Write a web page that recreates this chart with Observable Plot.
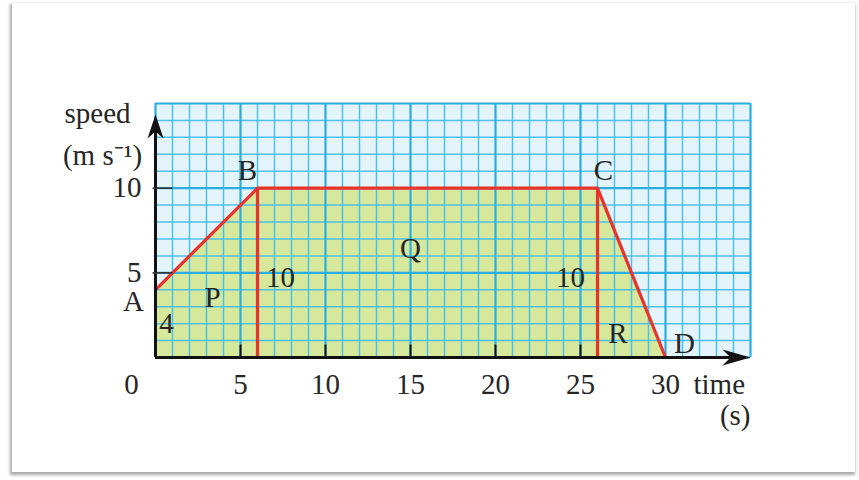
<!DOCTYPE html>
<html>
<head>
<meta charset="utf-8">
<script src="https://cdn.jsdelivr.net/npm/d3@7"></script>
<script src="https://cdn.jsdelivr.net/npm/@observablehq/plot@0.6"></script>
<style>
  html, body { margin: 0; padding: 0; background: #ffffff; }
  #wrap { position: relative; width: 859px; height: 480px; overflow: hidden; }
  #card {
    position: absolute; left: 12px; top: 3px; width: 843px; height: 469px;
    background: #ffffff;
    box-shadow: -1px 2px 3px 1px rgba(0,0,0,0.35);
  }
  #chart { position: absolute; left: 0; top: 0; }
</style>
</head>
<body>
<div id="wrap"><div id="card"></div><div id="chart"></div></div>
<script>
// Speed–time profile of the journey A → B → C → D
const times  = [0, 6, 26, 30];      // s
const speeds = [4, 10, 10, 0];      // m/s
const pointNames = ["A", "B", "C", "D"];

// Axis extents and tick labels
const timeDomain  = [0, 35];
const speedDomain = [0, 15];
const timeTicks   = [5, 10, 15, 20, 25, 30];
const speedTicks  = [5, 10];

// Region names and the side lengths written on the diagram
const regionNames = ["P", "Q", "R"];
const sideLabels  = ["4", "10", "10"];

const profile = times.map((t, i) => ({t, v: speeds[i]}));

const font = "Liberation Serif, Times New Roman, serif";
const ink = "#262626";
const fs = 29;

// Filled "stealth" arrowheads, tip at the anchor point
const arrowUp = {draw(c) { c.moveTo(0, 0); c.lineTo(-8, 24); c.lineTo(0, 17); c.lineTo(8, 24); c.closePath(); }};
const arrowRight = {draw(c) { c.moveTo(0, 0); c.lineTo(-28, -8); c.lineTo(-20, 0); c.lineTo(-28, 8); c.closePath(); }};
// Short tick strokes
const tickUp = {draw(c) { c.moveTo(0, 0); c.lineTo(0, -13); }};
const tickRight = {draw(c) { c.moveTo(-3, 0); c.lineTo(17, 0); }};

const gridX = d3.range(timeDomain[0], timeDomain[1] + 1);
const gridY = d3.range(speedDomain[0], speedDomain[1] + 1);
const major = d => d % 5 === 0;

const label = (text, x, y, o = {}) =>
  Plot.text([text], {x: () => x, y: () => y, text: d => d, fontFamily: font, fontSize: fs, fill: ink, ...o});

const pointOffsets = [[-22, 12], [-10, -17], [6, -17], [19, -14]];

const chart = Plot.plot({
  width: 859,
  height: 480,
  marginLeft: 155,
  marginRight: 109,
  marginTop: 103,
  marginBottom: 123,
  x: {domain: timeDomain, axis: null},
  y: {domain: speedDomain, axis: null},
  style: {background: "transparent", overflow: "visible"},
  marks: [
    // graph-paper background
    Plot.rect([0], {x1: timeDomain[0], x2: timeDomain[1], y1: speedDomain[0], y2: speedDomain[1], fill: "#e3f4fd"}),
    // area under the speed curve
    Plot.areaY(profile, {x: "t", y: "v", fill: "#d5e89c"}),
    // grid
    Plot.ruleX(gridX.filter(d => !major(d)), {x: d => d, y1: speedDomain[0], y2: speedDomain[1], stroke: "#3fbbea", strokeOpacity: 0.9, strokeWidth: 1.5}),
    Plot.ruleY(gridY.filter(d => !major(d)), {y: d => d, x1: timeDomain[0], x2: timeDomain[1], stroke: "#3fbbea", strokeOpacity: 0.9, strokeWidth: 1.5}),
    Plot.ruleX(gridX.filter(major), {x: d => d, y1: speedDomain[0], y2: speedDomain[1], stroke: "#2aaee2", strokeWidth: 2.2}),
    Plot.ruleY(gridY.filter(major), {y: d => d, x1: timeDomain[0], x2: timeDomain[1], stroke: "#2aaee2", strokeWidth: 2.2}),
    // speed curve and dividing verticals
    Plot.ruleX(profile.filter(d => d.v === 10), {x: "t", y1: 0, y2: "v", stroke: "#e8322b", strokeWidth: 3.2}),
    Plot.line(profile, {x: "t", y: "v", stroke: "#e8322b", strokeWidth: 3.2, strokeLinejoin: "miter"}),
    // axes
    Plot.ruleY([0], {x1: 0, x2: 34.2, stroke: "#111", strokeWidth: 3}),
    Plot.ruleX([0], {y1: 0, y2: 13.6, stroke: "#111", strokeWidth: 3}),
    Plot.dot([0], {x: timeDomain[1], y: 0, symbol: arrowRight, fill: "#111", stroke: "none"}),
    Plot.dot([0], {x: 0, y: 14.35, symbol: arrowUp, fill: "#111", stroke: "none"}),
    Plot.dot(timeTicks.filter(d => d < 30), {x: d => d, y: 0, symbol: tickUp, stroke: "#111", strokeWidth: 2, fill: "none"}),
    Plot.dot(speedTicks, {x: 0, y: d => d, symbol: tickRight, stroke: "#333", strokeWidth: 1.6, fill: "none"}),
    // tick labels
    Plot.text(timeTicks, {x: d => d, y: 0, text: d => String(d), dy: 27, fontFamily: font, fontSize: fs, fill: ink}),
    label("0", 0, 0, {dx: -24, dy: 27}),
    Plot.text(speedTicks, {x: 0, y: d => d, text: d => String(d), dx: -14, dy: 0, textAnchor: "end", fontFamily: font, fontSize: fs, fill: ink}),
    // axis titles
    label("speed", 0, 14.4, {dx: -58}),
    label("(m s⁻¹)", 0, 11.9, {dx: -53}),
    label("time", 30, 0, {dx: 28, dy: 27, textAnchor: "start"}),
    label("(s)", 35, 0, {dy: 58, textAnchor: "end"}),
    // point names
    ...pointNames.map((n, i) => label(n, times[i], speeds[i], {dx: pointOffsets[i][0], dy: pointOffsets[i][1]})),
    // region names
    label(regionNames[0], 3.35, 3.55),
    label(regionNames[1], 15, 6.45),
    label(regionNames[2], 27.2, 1.42),
    // side lengths
    label(sideLabels[0], times[0], speeds[0] / 2, {dx: 11}),
    label(sideLabels[1], times[1], speeds[1] / 2, {dx: 23, dy: 5}),
    label(sideLabels[2], times[2], speeds[2] / 2, {dx: -27, dy: 5})
  ]
});

document.getElementById("chart").appendChild(chart);
</script>
</body>
</html>
